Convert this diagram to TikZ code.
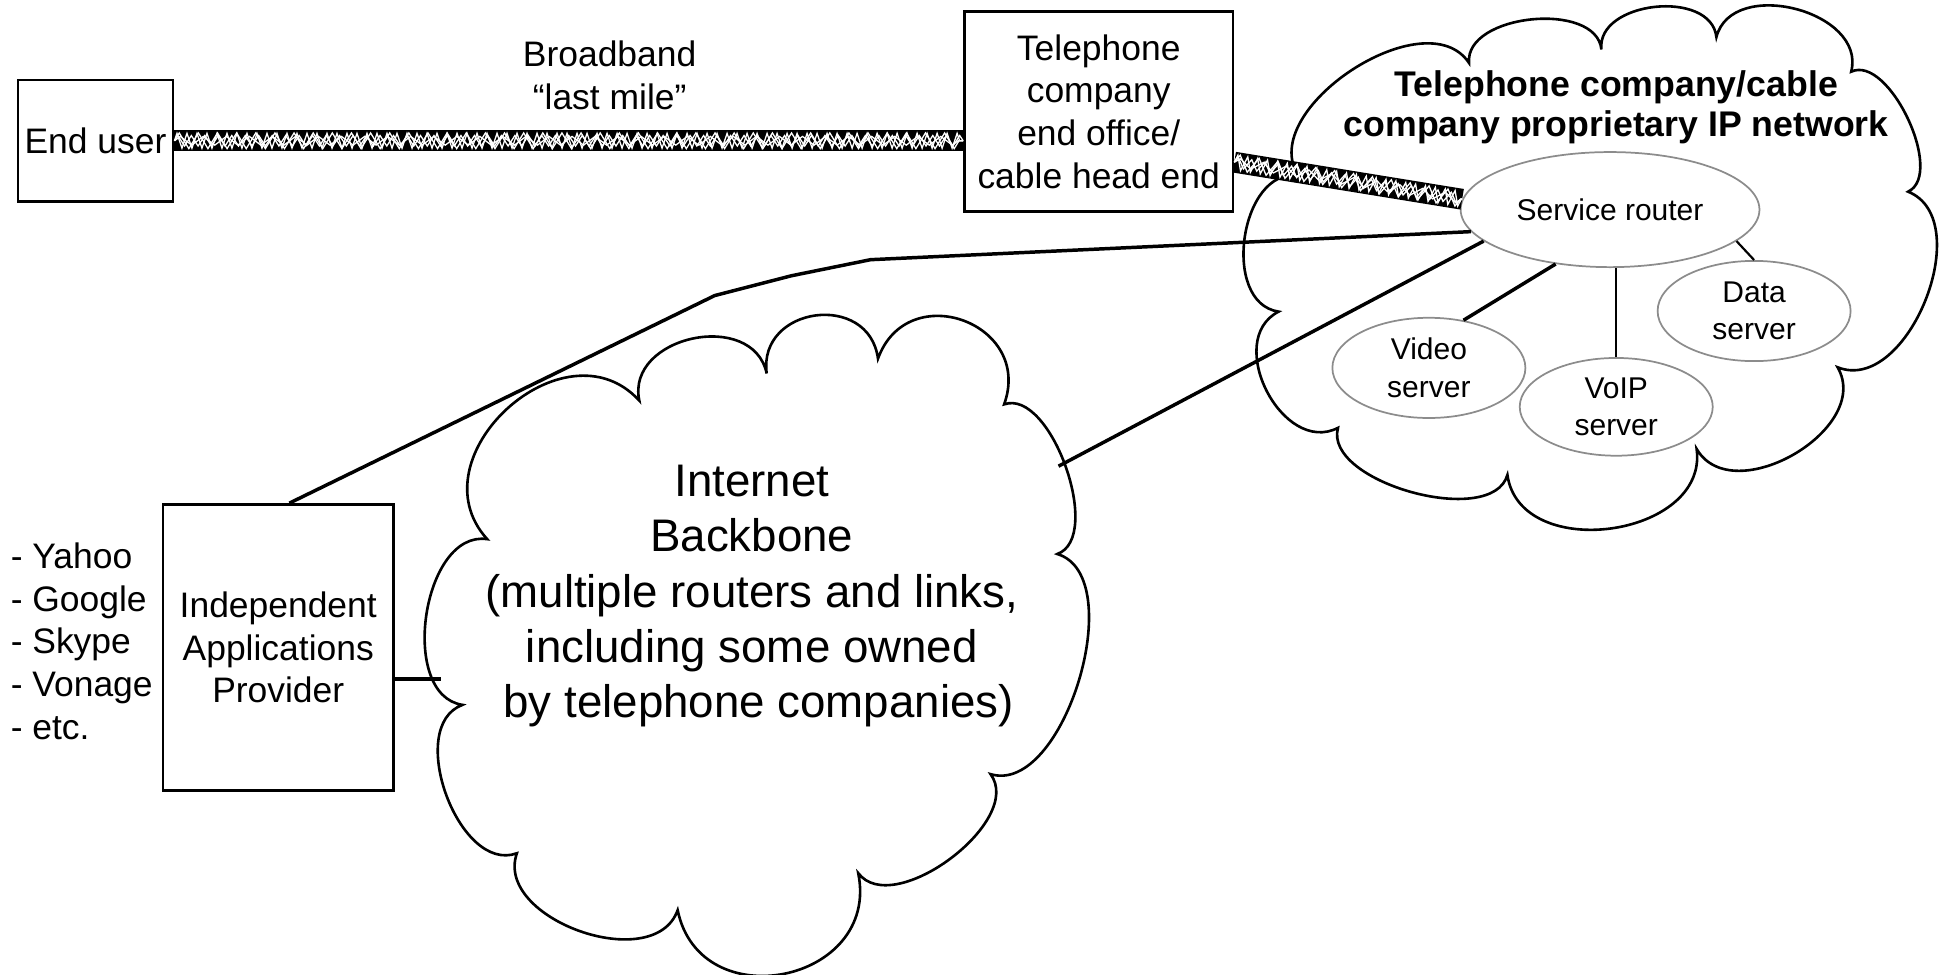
\documentclass[tikz,border=0pt]{standalone}
\usepackage{fontspec}
\setmainfont{Liberation Sans}
\usetikzlibrary{shapes.geometric, decorations.pathmorphing, calc}

\begin{document}
\begin{tikzpicture}[x=0.01cm, y=-0.01cm,
    box/.style={draw, line width=0.6pt, align=center, inner sep=0pt, font=\fontsize{8.15}{9.8}\selectfont},
    txt/.style={align=center, inner sep=0pt, font=\fontsize{8.15}{9.8}\selectfont},
    srv/.style={ellipse, draw=gray!90, line width=0.4pt, inner sep=0pt, minimum width=1.56cm, minimum height=0.81cm, align=center, font=\fontsize{6.9}{8.6}\selectfont},
    puff/.style={bend left=90, looseness=#1},
    link/.style={line width=0.8pt},
    weave/.style 2 args={draw=white, line width=0.3pt, decorate, decoration={zigzag, segment length=#1, amplitude=#2}},
    bband/.style={line width=4.8pt, postaction={weave={2.3pt}{1.7pt}}, postaction={weave={3.1pt}{1.2pt}},
        postaction={weave={4.4pt}{1.8pt}}, postaction={weave={5.3pt}{1.0pt}}}]
    \useasboundingbox (0,0) rectangle (1568,788);

    % 两朵云: 互联网骨干 和 电话公司网络
    \draw[line width=0.6pt] (394,436) to[puff=1.38] (517,324) to[puff=1.3] (620,302) to[puff=1.55] (710,290)
        to[puff=1.65] (812,327) to[puff=0.8] (855,448) to[puff=0.85] (801,626) to[puff=0.9] (694,706)
        to[puff=1.55] (548,736) to[puff=1.05] (418,690) to[puff=1.0] (374,570) to[puff=1.0] (394,436) -- cycle;
    \draw[line width=0.6pt] (1050,142) to[puff=0.98] (1188,51) to[puff=0.95] (1295,40) to[puff=1.08] (1388,30)
        to[puff=1.15] (1497,58) to[puff=0.8] (1543,155) to[puff=1.02] (1486,297) to[puff=1.12] (1372,363)
        to[puff=1.2] (1219,384) to[puff=0.82] (1082,346) to[puff=1.22] (1034,252) to[puff=1.1] (1050,142) -- cycle;

    \node[box, minimum width=1.255cm, minimum height=0.983cm] (eu) at (77.25,113.85) {End user};
    \node[txt] (bb) at (493,61) {Broadband\\“last mile”};
    \node[box, minimum width=2.17cm, minimum height=1.616cm] (tel) at (888.5,90.2) {Telephone\\company\\end office/\\cable head end};
    \node[box, minimum width=1.86cm, minimum height=2.31cm] (app) at (225,523.5) {Independent\\Applications\\Provider};
    \node[txt, anchor=west, align=left] (apps) at (8,518.5) {- Yahoo\\- Google\\- Skype\\- Vonage\\- etc.};
    \node[txt, font=\bfseries\fontsize{8.2}{9.2}\selectfont] (ipnet) at (1307,87) {Telephone company/cable\\company proprietary IP network};
    \node[txt, font=\fontsize{10.5}{12.7}\selectfont] (inet) at (608,482) {Internet\\Backbone\\(multiple routers and links,\\including some owned\\\hspace*{.3em}by telephone companies)};

    % 服务器椭圆
    \node[srv, minimum width=2.415cm, minimum height=0.93cm] (router) at (1302,169.5) {Service router};
    \node[srv] (data) at (1418.5,251.5) {Data\\server};
    \node[srv] (video) at (1155.5,297.5) {Video\\server};
    \node[srv, minimum height=0.79cm] (voip) at (1307,329) {VoIP\\server};

    \coordinate (inetW) at (357,549);
    \coordinate (inetNE) at (856,377);

    % 宽带线路
    \draw[bband] (eu.east) -- (eu.east -| tel.west);
    \draw[bband] ($(tel.east)!0.5!(tel.south east)$) -- (router.176);

    % 连线
    \draw[link] (router.194) -- (inetNE);
    \draw[link] (router.189) -- (704,210) -- (640,223) -- (578,239) -- ($(app.north)+(9,0)$);
    \draw[link] (app.east |- inetW) -- (inetW);
    \draw[link] (router.225) -- (video.54);
    \draw[line width=0.5pt] (voip.north |- router.south) -- (voip.north);
    \draw[line width=0.5pt] (router.346) -- (data.north);
\end{tikzpicture}
\end{document}
